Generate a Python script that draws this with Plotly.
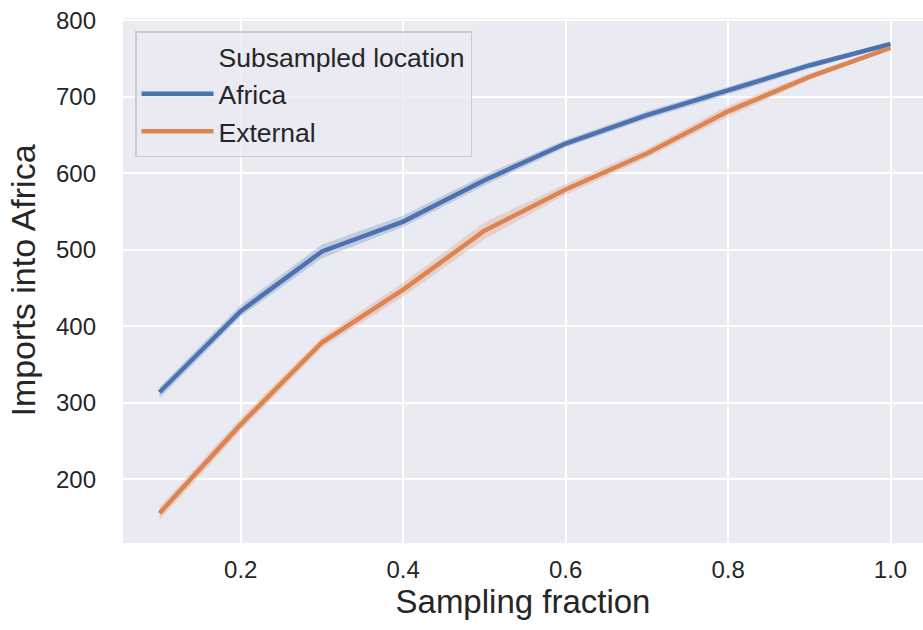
import plotly.graph_objects as go

fractions = [0.1, 0.2, 0.3, 0.4, 0.5, 0.6, 0.7, 0.8, 0.9, 1.0]
africa_mean = [314, 420, 498, 537, 591, 639, 676, 708, 741, 769]
africa_lo = [306, 413, 489, 530, 584, 634, 671, 703, 737, 767]
africa_hi = [321, 428, 507, 545, 598, 644, 681, 713, 745, 771]
external_mean = [156, 272, 379, 448, 525, 579, 626, 681, 726, 764]
external_lo = [147, 264, 372, 439, 514, 572, 620, 674, 722, 762]
external_hi = [164, 280, 386, 457, 536, 586, 632, 688, 730, 766]

series = [
    ("Africa", africa_mean, africa_lo, africa_hi, "#4c72b0", "rgba(76,114,176,0.25)"),
    ("External", external_mean, external_lo, external_hi, "#dd8452", "rgba(221,132,82,0.25)"),
]

fig = go.Figure()
fig.add_trace(go.Scatter(x=[None], y=[None], mode="lines", name="Subsampled location",
                         line=dict(color="rgba(0,0,0,0)", width=3), hoverinfo="skip"))
for name, m, lo, hi, col, fill in series:
    fig.add_trace(go.Scatter(x=fractions + fractions[::-1], y=hi + lo[::-1], fill="toself",
                             fillcolor=fill, line=dict(width=0), showlegend=False, hoverinfo="skip"))
    fig.add_trace(go.Scatter(x=fractions, y=m, mode="lines", name=name,
                             line=dict(color=col, width=4.5)))

fig.update_layout(
    width=923, height=630,
    margin=dict(l=123, r=0, t=18, b=87, autoexpand=False),
    paper_bgcolor="white", plot_bgcolor="#eaeaf2",
    font=dict(family="Liberation Sans, Arial, sans-serif", size=24, color="#262626"),
    showlegend=True,
    legend=dict(x=0.015, y=0.975, xanchor="left", yanchor="top",
                bgcolor="rgba(234,234,242,0.8)", bordercolor="rgba(200,200,200,0.9)", borderwidth=1.5,
                font=dict(size=26.5, color="#262626"), itemwidth=72, tracegroupgap=0),
)
fig.update_xaxes(range=[0.055, 1.04], tickvals=[0.2, 0.4, 0.6, 0.8, 1.0],
                 ticktext=["0.2", "0.4", "0.6", "0.8", "1.0"],
                 showgrid=True, gridcolor="white", gridwidth=2, zeroline=False,
                 showline=False, ticks="", ticklabelstandoff=10, automargin=False,
                 title=dict(text="Sampling fraction", font=dict(size=33), standoff=6),
                 tickfont=dict(size=24), ticklabeloverflow="allow")
fig.update_yaxes(range=[117, 803], tickvals=[200, 300, 400, 500, 600, 700, 800],
                 showgrid=True, gridcolor="white", gridwidth=2, zeroline=False,
                 showline=False, ticks="", ticklabelstandoff=26, automargin=False,
                 title=dict(text="Imports into Africa", font=dict(size=34), standoff=10),
                 tickfont=dict(size=24), ticklabeloverflow="allow")

# remove the browser's default 8px body margin so the figure sits at the page origin
fig.write_html("out.html", config={"displayModeBar": False},
               post_script="document.body.style.margin='0px';")
